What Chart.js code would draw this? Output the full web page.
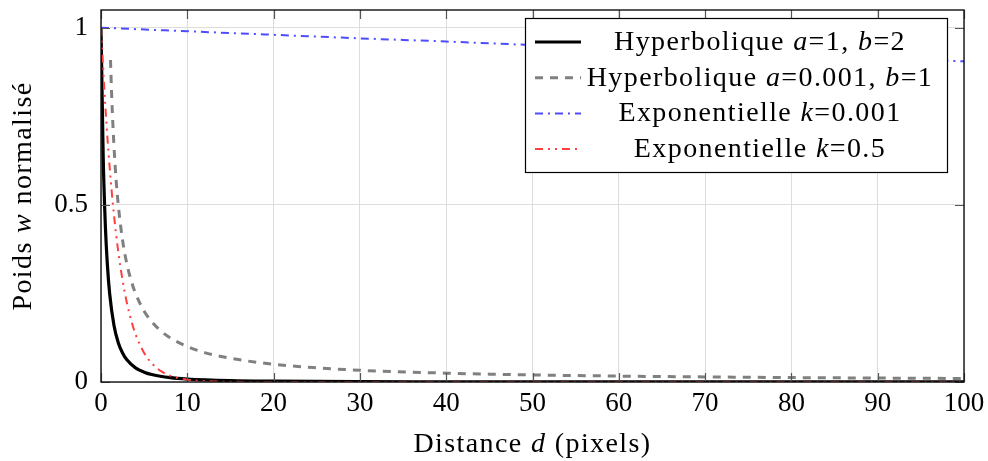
<!DOCTYPE html>
<html>
<head>
<meta charset="utf-8">
<script src="https://cdn.jsdelivr.net/npm/chart.js@4.4.1/dist/chart.umd.min.js"></script>
<style>
html,body{margin:0;padding:0;background:#fff;}
#wrap{position:relative;width:988px;height:461px;}
</style>
</head>
<body>
<div id="wrap"><canvas id="c" width="988" height="461"></canvas></div>
<script>
// ---- data ----
const xTicks = [0, 10, 20, 30, 40, 50, 60, 70, 80, 90, 100];
const yTicks = [0, 0.5, 1];

const hypA_d = [0, 0.25, 0.5, 0.75, 1, 1.5, 2, 2.5, 3, 4, 5, 6, 8, 10, 15, 20, 30, 40, 60, 80, 100];
const hypA_w = [1, 0.64, 0.444, 0.327, 0.25, 0.16, 0.111, 0.082, 0.0625, 0.04, 0.0278, 0.0204, 0.0123, 0.0083, 0.0039, 0.0023, 0.001, 0.0006, 0.0003, 0.00015, 0.0001];

const hypB_d = [1.1, 1.25, 1.5, 1.75, 2, 2.5, 3, 3.5, 4, 5, 6, 7, 8, 10, 12, 15, 20, 25, 30, 40, 50, 60, 70, 80, 90, 100];
const hypB_w = [0.909, 0.8, 0.667, 0.571, 0.5, 0.4, 0.333, 0.286, 0.25, 0.2, 0.167, 0.143, 0.125, 0.1, 0.083, 0.067, 0.05, 0.04, 0.033, 0.025, 0.02, 0.0167, 0.0143, 0.0125, 0.0111, 0.01];

const expA_d = [0, 10, 20, 30, 40, 50, 60, 70, 80, 90, 100];
const expA_w = [1, 0.990, 0.980, 0.970, 0.961, 0.951, 0.942, 0.932, 0.923, 0.914, 0.905];

const expB_d = [0, 0.5, 1, 1.5, 2, 2.5, 3, 3.5, 4, 5, 6, 7, 8, 10, 12, 15, 20, 30, 40, 50, 60, 70, 80, 90, 100];
const expB_w = [1, 0.779, 0.607, 0.472, 0.368, 0.287, 0.223, 0.174, 0.135, 0.082, 0.05, 0.03, 0.018, 0.0067, 0.0025, 0.00055, 0.00005, 0, 0, 0, 0, 0, 0, 0, 0];

const legendRows = [
  [{t:'Hyperbolique '}, {t:'a', i:true}, {t:'=1, '}, {t:'b', i:true}, {t:'=2'}],
  [{t:'Hyperbolique '}, {t:'a', i:true}, {t:'=0.001, '}, {t:'b', i:true}, {t:'=1'}],
  [{t:'Exponentielle '}, {t:'k', i:true}, {t:'=0.001'}],
  [{t:'Exponentielle '}, {t:'k', i:true}, {t:'=0.5'}]
];
const xTitle = [{t:'Distance '}, {t:'d', i:true}, {t:' (pixels)'}];
const yTitle = [{t:'Poids '}, {t:'w', i:true}, {t:' normalisé'}];

// ---- helpers ----
const FONT = '"Liberation Serif", "DejaVu Serif", serif';
const FS = 27;      // tick labels
const TS = 28;      // legend / titles
const LS = '1.4px'; // letter spacing for legend / titles
const pts = (xs, ys) => xs.map((x, i) => ({x: x, y: ys[i]}));

function setFont(ctx, s, size) {
  ctx.font = (s.i ? 'italic ' : '') + size + 'px ' + FONT;
  ctx.letterSpacing = LS;
}
function richWidth(ctx, segs, size) {
  let w = 0;
  for (const s of segs) { setFont(ctx, s, size); w += ctx.measureText(s.t).width; }
  return w;
}
function drawRich(ctx, segs, x, y, size) {
  let cx = x;
  ctx.textBaseline = 'alphabetic';
  ctx.textAlign = 'left';
  for (const s of segs) {
    setFont(ctx, s, size);
    ctx.fillText(s.t, cx, y);
    cx += ctx.measureText(s.t).width;
  }
}

const styles = [
  {color:'#000000', width:3.2, dash:[]},
  {color:'#808080', width:3.0, dash:[8, 7]},
  {color:'#4d4dff', width:2.0, dash:[8, 5, 2, 5]},
  {color:'#ff4040', width:2.0, dash:[8, 5, 2, 5, 2, 5]}
];

const framePlugin = {
  id: 'frame',
  afterDatasetsDraw(chart) {
    const ctx = chart.ctx, a = chart.chartArea;
    const xs = chart.scales.x, ys = chart.scales.y;
    ctx.save();
    // inward ticks on all sides
    ctx.strokeStyle = '#555';
    ctx.lineWidth = 1.2;
    const TL = 9;
    ctx.beginPath();
    for (const v of xTicks) {
      const px = Math.round(xs.getPixelForValue(v)) + 0.5;
      ctx.moveTo(px, a.bottom); ctx.lineTo(px, a.bottom - TL);
      ctx.moveTo(px, a.top); ctx.lineTo(px, a.top + TL);
    }
    for (const v of yTicks) {
      const py = Math.round(ys.getPixelForValue(v)) + 0.5;
      ctx.moveTo(a.left, py); ctx.lineTo(a.left + TL, py);
      ctx.moveTo(a.right, py); ctx.lineTo(a.right - TL, py);
    }
    ctx.stroke();
    // frame
    ctx.strokeStyle = '#111';
    ctx.lineWidth = 1.4;
    ctx.strokeRect(a.left, a.top, a.right - a.left, a.bottom - a.top);

    // legend
    const lx0 = a.right - 17, ly0 = a.top + 8;
    const lw = 422, lh = 154;
    const L = lx0 - lw;
    ctx.fillStyle = '#fff';
    ctx.fillRect(L, ly0, lw, lh);
    ctx.strokeStyle = '#000';
    ctx.lineWidth = 1.2;
    ctx.strokeRect(L + 0.5, ly0 + 0.5, lw, lh);
    const center = L + 235;
    legendRows.forEach((segs, i) => {
      const base = ly0 + 32 + i * 35.7;
      const st = styles[i];
      ctx.beginPath();
      ctx.strokeStyle = st.color;
      ctx.lineWidth = st.width;
      ctx.setLineDash(st.dash);
      ctx.moveTo(L + 10, base - 8);
      ctx.lineTo(L + 56, base - 8);
      ctx.stroke();
      ctx.setLineDash([]);
      ctx.fillStyle = '#000';
      const w = richWidth(ctx, segs, TS);
      drawRich(ctx, segs, center - w / 2, base, TS);
    });

    // axis titles
    ctx.fillStyle = '#000';
    const xw = richWidth(ctx, xTitle, TS);
    drawRich(ctx, xTitle, (a.left + a.right) / 2 - xw / 2, 452, TS);
    ctx.save();
    ctx.translate(31, (a.top + a.bottom) / 2);
    ctx.rotate(-Math.PI / 2);
    const yw = richWidth(ctx, yTitle, TS);
    drawRich(ctx, yTitle, -yw / 2, 0, TS);
    ctx.restore();
    ctx.letterSpacing = '0px';
    ctx.restore();
  }
};

const mk = (label, xs, ys, st, order) => ({
  label: label, data: pts(xs, ys), borderColor: st.color, borderWidth: st.width,
  borderDash: st.dash, pointRadius: 0, fill: false, cubicInterpolationMode: 'monotone', order: order
});

new Chart(document.getElementById('c'), {
  type: 'line',
  data: {
    datasets: [
      mk('Hyperbolique a=1, b=2', hypA_d, hypA_w, styles[0], 3),
      mk('Hyperbolique a=0.001, b=1', hypB_d, hypB_w, styles[1], 2),
      mk('Exponentielle k=0.001', expA_d, expA_w, styles[2], 1),
      mk('Exponentielle k=0.5', expB_d, expB_w, styles[3], 0)
    ]
  },
  options: {
    responsive: false,
    animation: false,
    layout: {padding: {top: 10, right: 24, left: 0, bottom: 0}},
    plugins: {legend: {display: false}, tooltip: {enabled: false}},
    scales: {
      x: {
        type: 'linear', min: 0, max: 100,
        afterBuildTicks: s => { s.ticks = xTicks.map(v => ({value: v})); },
        afterFit: s => { s.height = 79; s.paddingLeft = 0; s.paddingRight = 0; s.paddingTop = 0; },
        grid: {color: '#dddddd', lineWidth: 1, drawTicks: false},
        border: {display: false},
        ticks: {color: '#000', font: {family: FONT, size: FS}, padding: 6, maxRotation: 0,
                callback: v => String(v)}
      },
      y: {
        type: 'linear', min: 0, max: 1.05,
        afterBuildTicks: s => { s.ticks = yTicks.map(v => ({value: v})); },
        afterFit: s => { s.width = 101; s.paddingTop = 0; s.paddingBottom = 0; },
        grid: {color: '#dddddd', lineWidth: 1, drawTicks: false},
        border: {display: false},
        ticks: {color: '#000', font: {family: FONT, size: FS}, padding: 13,
                callback: v => String(v)}
      }
    }
  },
  plugins: [framePlugin]
});
</script>
</body>
</html>
